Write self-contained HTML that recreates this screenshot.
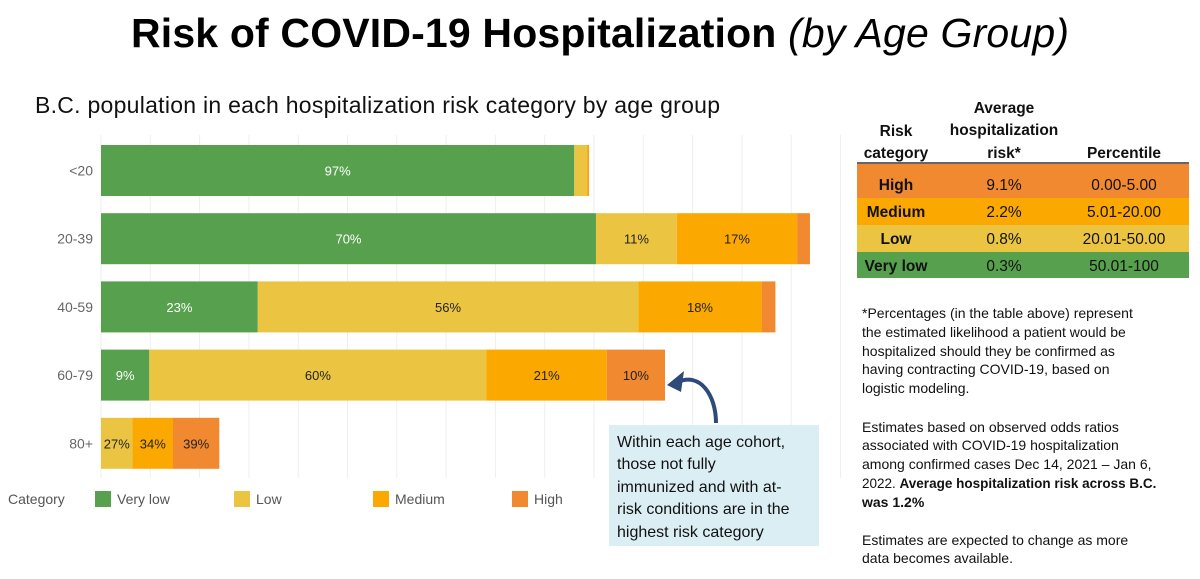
<!DOCTYPE html>
<html><head><meta charset="utf-8"><style>
body{margin:0;background:#fff;}
svg{display:block;font-family:"Liberation Sans",sans-serif;}
</style></head><body>
<svg id="chart" width="1200" height="579" viewBox="0 0 1200 579">
<text x="600" y="47" text-anchor="middle" font-size="41" font-weight="bold" fill="#000" textLength="938">Risk of COVID-19 Hospitalization <tspan font-style="italic" font-weight="normal">(by Age Group)</tspan></text>
<text x="35" y="113" font-size="23" fill="#111" textLength="685">B.C. population in each hospitalization risk category by age group</text>
<g id="grid"></g>
<g id="bars"></g>
<g id="legend">
<text x="8" y="504" font-size="14" fill="#555">Category</text>
</g>
<g>
<rect x="609" y="425" width="210" height="121" fill="#dbeef4"/>
<g font-size="16" fill="#111">
<text x="617" y="447">Within each age cohort,</text>
<text x="617" y="469">those not fully</text>
<text x="617" y="492">immunized and with at-</text>
<text x="617" y="514">risk conditions are in the</text>
<text x="617" y="537">highest risk category</text>
</g>
<path d="M716,423 C716,395 700,372 678,382" fill="none" stroke="#2e4a7a" stroke-width="4"/>
<path d="M667,385 L684,371 L681,392 Z" fill="#2e4a7a"/>
</g>
<g>
<g font-size="15.5" font-weight="bold" fill="#111" text-anchor="middle">
<text x="896" y="136">Risk</text><text x="896" y="158">category</text>
<text x="1004" y="113">Average</text><text x="1004" y="135">hospitalization</text><text x="1004" y="158">risk*</text>
<text x="1124" y="158">Percentile</text>
</g>
<line x1="857" y1="163" x2="1189" y2="163" stroke="#333" stroke-width="1.5"/>
<rect x="857" y="164" width="332" height="34" fill="#f0892f"/>
<rect x="857" y="198" width="332" height="27" fill="#fba800"/>
<rect x="857" y="225" width="332" height="27" fill="#ebc542"/>
<rect x="857" y="252" width="332" height="26" fill="#57a04d"/>
<g font-size="15.5" fill="#111" text-anchor="middle">
<text x="896" y="190" font-weight="bold">High</text><text x="1004" y="190">9.1%</text><text x="1124" y="190">0.00-5.00</text>
<text x="896" y="217" font-weight="bold">Medium</text><text x="1004" y="217">2.2%</text><text x="1124" y="217">5.01-20.00</text>
<text x="896" y="244" font-weight="bold">Low</text><text x="1004" y="244">0.8%</text><text x="1124" y="244">20.01-50.00</text>
<text x="896" y="271" font-weight="bold">Very low</text><text x="1004" y="271">0.3%</text><text x="1124" y="271">50.01-100</text>
</g>
</g>
<g font-size="14" fill="#111">
<text x="862" y="318">*Percentages (in the table above) represent</text>
<text x="862" y="337">the estimated likelihood a patient would be</text>
<text x="862" y="356">hospitalized should they be confirmed as</text>
<text x="862" y="374">having contracting COVID-19, based on</text>
<text x="862" y="393">logistic modeling.</text>
<text x="862" y="432">Estimates based on observed odds ratios</text>
<text x="862" y="450">associated with COVID-19 hospitalization</text>
<text x="862" y="469">among confirmed cases Dec 14, 2021 – Jan 6,</text>
<text x="862" y="488" font-size="13.5">2022. <tspan font-weight="bold">Average hospitalization risk across B.C.</tspan></text>
<text x="862" y="507" font-weight="bold">was 1.2%</text>
<text x="862" y="545">Estimates are expected to change as more</text>
<text x="862" y="563">data becomes available.</text>
</g>
</svg>
<script>
const ageGroups = ["<20", "20-39", "40-59", "60-79", "80+"];
const veryLow = [480, 502, 159, 49, 0];
const low = [13, 82, 386, 342, 32];
const medium = [1.5, 122, 125, 122, 41];
const high = [0.5, 13, 14, 59, 47];
const categories = ["Very low", "Low", "Medium", "High"];
const colors = ["#57a04d", "#ebc542", "#fba800", "#f0892f"];
const NS = "http://www.w3.org/2000/svg";
const x0 = 101, pxPer = 0.986;
function xs(v){ return x0 + v * pxPer; }
function yb(i){ return 145 + i * 68.2; }
const barH = 51;
function mk(tag, attrs, parent){ const e=document.createElementNS(NS,tag); for(const k in attrs) e.setAttribute(k,attrs[k]); parent.appendChild(e); return e; }
const grid = document.getElementById("grid");
for (let g = 0; g <= 750; g += 50) {
  const ln = mk("line", {x1: xs(g), x2: xs(g), y1: 135, y2: 478, stroke: "#eeeeee", "stroke-width": 1}, grid);
  
  
}
const bars = document.getElementById("bars");
const series = [veryLow, low, medium, high];
ageGroups.forEach((ag, i) => {
  const lbl = mk("text", {x: 93, y: yb(i) + barH/2 + 5, "text-anchor": "end", "font-size": 14, fill: "#666"}, bars);
  lbl.textContent = ag;
  
  
  const total = series.reduce((s, a) => s + a[i], 0);
  let acc = 0;
  series.forEach((arr, c) => {
    const v = arr[i];
    if (v <= 0) return;
    const r = mk("rect", {x: xs(acc), y: yb(i), width: v * pxPer, height: barH, fill: colors[c]}, bars);
    
    
    const pct = Math.round(v / total * 100);
    if (pct >= 5) {
      const t = mk("text", {x: xs(acc + v/2), y: yb(i) + barH/2 + 5, "text-anchor": "middle", "font-size": 13, fill: c === 0 ? "#fff" : "#222"}, bars);
      t.textContent = pct + "%";
      
      
    }
    acc += v;
  });
});
const legend = document.getElementById("legend");
const legX = [95, 234, 373, 512];
categories.forEach((c, k) => {
  const s = mk("rect", {x: legX[k], y: 491, width: 16, height: 16, fill: colors[k]}, legend);
  
  
  const t = mk("text", {x: legX[k] + 22, y: 504, "font-size": 14, fill: "#555"}, legend);
  t.textContent = c;
  
  
});
</script>
</body></html>
